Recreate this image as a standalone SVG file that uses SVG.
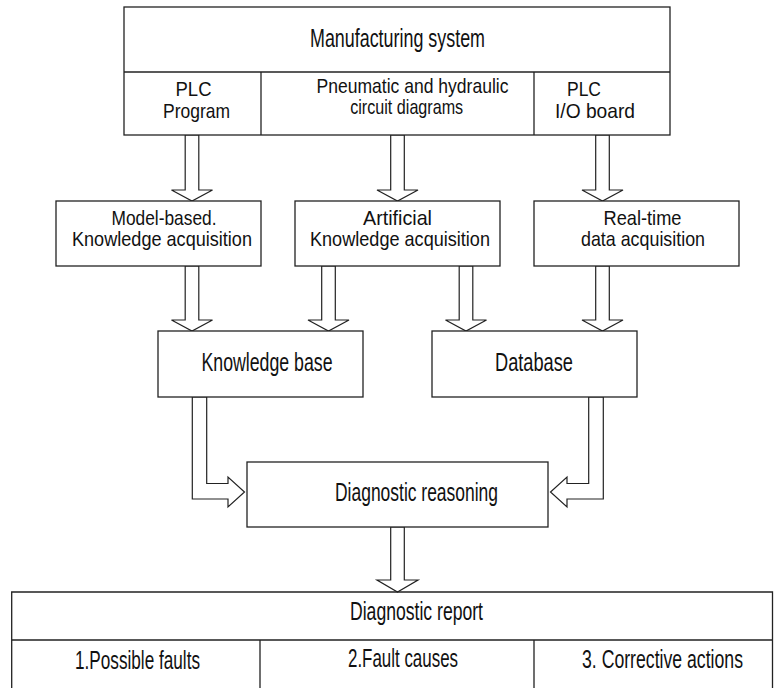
<svg xmlns="http://www.w3.org/2000/svg" width="774" height="688" viewBox="0 0 774 688">
<style>
.box{fill:#fff;stroke:#222;stroke-width:1.3}
.ln{fill:none;stroke:#222;stroke-width:1.3}
.arr{fill:#fff;stroke:#222;stroke-width:1.2;stroke-linejoin:miter}
text{font-family:"Liberation Sans",Arial,sans-serif;font-size:25px;fill:#111;text-anchor:middle}
.two{font-size:21px}
</style>
<rect width="774" height="688" fill="#fff"/>
<g id="connectors">
<polygon class="arr" points="185.2,135 198.8,135 198.8,190 212.5,190 192,201 171.5,190 185.2,190"/>
<polygon class="arr" points="390.7,135 404.3,135 404.3,190 418,190 397.5,201 377,190 390.7,190"/>
<polygon class="arr" points="595.7,135 609.3,135 609.3,190 623,190 602.5,201 582,190 595.7,190"/>
<polygon class="arr" points="185.2,266 198.8,266 198.8,320 212.5,320 192,331 171.5,320 185.2,320"/>
<polygon class="arr" points="321.7,266 335.3,266 335.3,320 349,320 328.5,331 308,320 321.7,320"/>
<polygon class="arr" points="459.2,266 472.8,266 472.8,320 486.5,320 466,331 445.5,320 459.2,320"/>
<polygon class="arr" points="595.7,266 609.3,266 609.3,320 623,320 602.5,331 582,320 595.7,320"/>
<polygon class="arr" points="192.3,397 206.7,397 206.7,483.5 228,483.5 228,477 244.5,492 228,507 228,499 192.3,499"/>
<polygon class="arr" points="603.3,397 588.7,397 588.7,483.5 567,483.5 567,477 550.5,492 567,507 567,499 603.3,499"/>
<polygon class="arr" points="390.7,527 404.3,527 404.3,580 418,580 397.5,592 377,580 390.7,580"/>
</g>
<g id="manufacturing-system">
<rect class="box" x="124" y="7" width="546" height="128"/>
<line class="ln" x1="124" y1="72" x2="670" y2="72"/>
<line class="ln" x1="261" y1="72" x2="261" y2="135"/>
<line class="ln" x1="534" y1="72" x2="534" y2="135"/>
<text x="397.5" y="47" textLength="175" lengthAdjust="spacingAndGlyphs">Manufacturing system</text>
<text class="two" x="193.5" y="96" textLength="36" lengthAdjust="spacingAndGlyphs">PLC</text>
<text class="two" x="196.5" y="118" textLength="67" lengthAdjust="spacingAndGlyphs">Program</text>
<text class="two" x="412.5" y="93" textLength="192" lengthAdjust="spacingAndGlyphs">Pneumatic and hydraulic</text>
<text class="two" x="406.7" y="114" textLength="113" lengthAdjust="spacingAndGlyphs">circuit diagrams</text>
<text class="two" x="584" y="96" textLength="34" lengthAdjust="spacingAndGlyphs">PLC</text>
<text class="two" x="595" y="118" textLength="80" lengthAdjust="spacingAndGlyphs">I/O board</text>
</g>
<g id="model-based">
<rect class="box" x="56" y="201" width="205" height="65"/>
<text class="two" x="164" y="225" textLength="105" lengthAdjust="spacingAndGlyphs">Model-based.</text>
<text class="two" x="162" y="246" textLength="180" lengthAdjust="spacingAndGlyphs">Knowledge acquisition</text>
</g>
<g id="artificial">
<rect class="box" x="295" y="201" width="205" height="65"/>
<text class="two" x="397.5" y="225" textLength="69" lengthAdjust="spacingAndGlyphs">Artificial</text>
<text class="two" x="400" y="246" textLength="180" lengthAdjust="spacingAndGlyphs">Knowledge acquisition</text>
</g>
<g id="real-time">
<rect class="box" x="534" y="201" width="205" height="65"/>
<text class="two" x="642.5" y="225" textLength="78" lengthAdjust="spacingAndGlyphs">Real-time</text>
<text class="two" x="643" y="246" textLength="124" lengthAdjust="spacingAndGlyphs">data acquisition</text>
</g>
<g id="knowledge-base">
<rect class="box" x="158" y="331" width="205" height="66"/>
<text x="267" y="371" textLength="131" lengthAdjust="spacingAndGlyphs">Knowledge base</text>
</g>
<g id="database">
<rect class="box" x="432" y="331" width="205" height="66"/>
<text x="534" y="371" textLength="78" lengthAdjust="spacingAndGlyphs">Database</text>
</g>
<g id="diagnostic-reasoning">
<rect class="box" x="247" y="462" width="301" height="65"/>
<text x="416.5" y="501" textLength="163" lengthAdjust="spacingAndGlyphs">Diagnostic reasoning</text>
</g>
<g id="diagnostic-report">
<path class="ln" d="M11.7,688 V592 H772.5 V688 M11.7,640 H772.5 M260,640 V688 M534,640 V688"/>
<text x="416.5" y="620" textLength="133" lengthAdjust="spacingAndGlyphs">Diagnostic report</text>
<text x="137.5" y="669" textLength="125" lengthAdjust="spacingAndGlyphs">1.Possible faults</text>
<text x="403" y="667" textLength="110" lengthAdjust="spacingAndGlyphs">2.Fault causes</text>
<text x="662.5" y="668" textLength="161" lengthAdjust="spacingAndGlyphs">3. Corrective actions</text>
</g>
</svg>
